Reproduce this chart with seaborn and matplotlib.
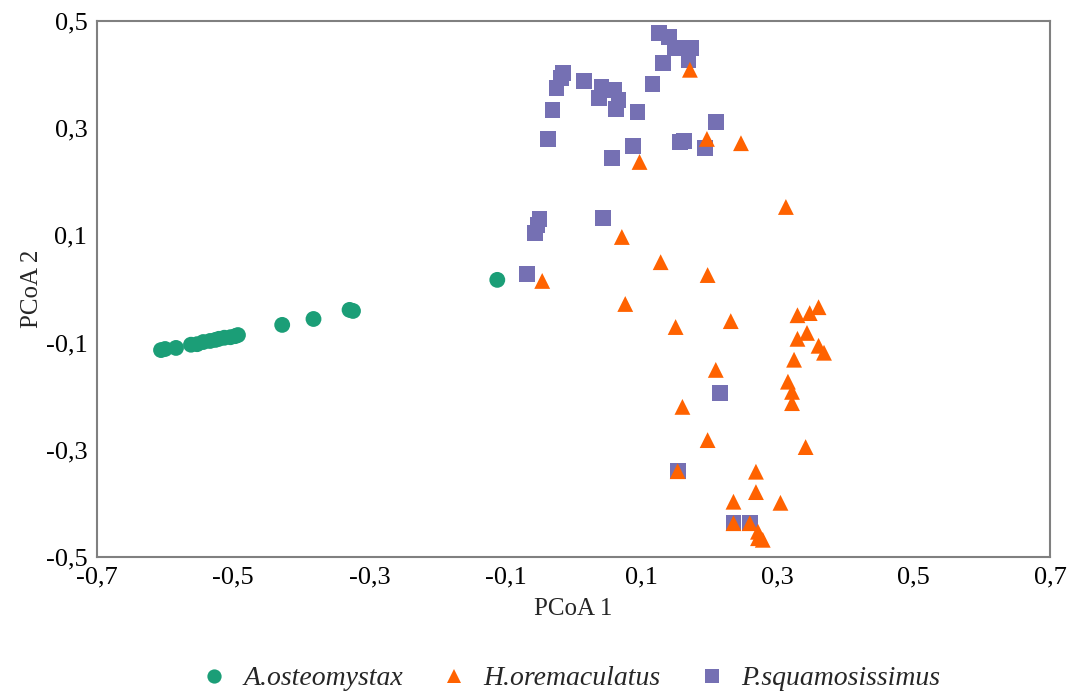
import numpy as np
import pandas as pd
import matplotlib
matplotlib.use("Agg")
import matplotlib.pyplot as plt
import seaborn as sns

# PCoA scores
osteo_x = [-0.606, -0.600, -0.584, -0.562, -0.553, -0.544, -0.534, -0.526, -0.521,
           -0.513, -0.504, -0.497, -0.493, -0.428, -0.382, -0.329, -0.324, -0.112]
osteo_y = [-0.114, -0.112, -0.110, -0.104, -0.103, -0.099, -0.097, -0.095, -0.093,
           -0.091, -0.090, -0.088, -0.086, -0.067, -0.056, -0.039, -0.041, 0.017]

squam_x = [0.126, 0.140, 0.149, 0.172, 0.169, 0.131, -0.015, -0.018, -0.025, 0.016,
           0.041, 0.060, 0.037, 0.066, 0.062, 0.116, 0.094, -0.031, -0.038, 0.209,
           0.162, 0.157, 0.193, 0.087, 0.056, -0.050, -0.053, -0.056, 0.043, -0.068,
           0.215, 0.153, 0.235, 0.259]
squam_y = [0.478, 0.470, 0.449, 0.449, 0.427, 0.422, 0.403, 0.394, 0.375, 0.388,
           0.377, 0.371, 0.356, 0.353, 0.336, 0.382, 0.330, 0.334, 0.280, 0.312,
           0.276, 0.274, 0.263, 0.267, 0.244, 0.131, 0.119, 0.104, 0.132, 0.028,
           -0.194, -0.340, -0.437, -0.437]

orema_x = [0.171, 0.196, 0.246, 0.097, 0.312, 0.071, -0.046, 0.128, 0.197, 0.076,
           0.150, 0.231, 0.329, 0.347, 0.360, 0.343, 0.329, 0.360, 0.368, 0.324,
           0.209, 0.315, 0.321, 0.321, 0.160, 0.197, 0.341, 0.153, 0.268, 0.268,
           0.235, 0.304, 0.235, 0.259, 0.271, 0.271, 0.278]
orema_y = [0.409, 0.280, 0.272, 0.237, 0.153, 0.097, 0.015, 0.050, 0.026, -0.028,
           -0.071, -0.060, -0.049, -0.045, -0.034, -0.082, -0.093, -0.106, -0.119, -0.132,
           -0.151, -0.173, -0.192, -0.213, -0.220, -0.282, -0.295, -0.340, -0.341, -0.379,
           -0.397, -0.399, -0.437, -0.437, -0.453, -0.465, -0.468]

species = ["A.osteomystax", "H.oremaculatus", "P.squamosissimus"]
colors = ["#1B9E77", "#FF6200", "#7570B3"]
markers = ["o", "^", "s"]

ticks_x = [-0.7, -0.5, -0.3, -0.1, 0.1, 0.3, 0.5, 0.7]
ticks_y = [-0.5, -0.3, -0.1, 0.1, 0.3, 0.5]
labels_x = ["-0,7", "-0,5", "-0,3", "-0,1", "0,1", "0,3", "0,5", "0,7"]
labels_y = ["-0,5", "-0,3", "-0,1", "0,1", "0,3", "0,5"]

# draw order: circles, then squares, then triangles on top
df = pd.concat([
    pd.DataFrame({"PCoA 1": osteo_x, "PCoA 2": osteo_y, "sp": species[0]}),
    pd.DataFrame({"PCoA 1": squam_x, "PCoA 2": squam_y, "sp": species[2]}),
    pd.DataFrame({"PCoA 1": orema_x, "PCoA 2": orema_y, "sp": species[1]}),
], ignore_index=True)

sns.set_theme(style="white")
plt.rcParams["font.family"] = ["Liberation Serif", "DejaVu Serif"]

fig = plt.figure(figsize=(10.7, 6.91), dpi=100)
ax = fig.add_axes([0.0907, 0.194, 0.8906, 0.7756])

sns.scatterplot(data=df, x="PCoA 1", y="PCoA 2", hue="sp", style="sp",
                hue_order=species, style_order=species,
                palette=dict(zip(species, colors)),
                markers=dict(zip(species, markers)),
                s=130, linewidth=0, alpha=1, ax=ax)

ax.set_xlim(-0.7, 0.7)
ax.set_ylim(-0.5, 0.5)
ax.set_xticks(ticks_x)
ax.set_xticklabels(labels_x)
ax.set_yticks(ticks_y)
ax.set_yticklabels(labels_y)
ax.tick_params(axis="both", direction="out", length=6, width=1.2, color="#808080",
               labelsize=19, labelcolor="black", pad=1)
for sp in ax.spines.values():
    sp.set_color("#808080")
    sp.set_linewidth(1.5)
ax.set_xlabel("PCoA 1", fontsize=18, labelpad=7)
ax.set_ylabel("PCoA 2", fontsize=18, labelpad=2)

sns.move_legend(ax, "center", bbox_to_anchor=(0.533, 0.018), bbox_transform=fig.transFigure,
                ncol=3, frameon=False, title=None, columnspacing=1.35,
                handlelength=1.0, handletextpad=0.55, markerscale=0.9,
                prop={"style": "italic", "size": 20})

fig.savefig("out.png", dpi=100)
